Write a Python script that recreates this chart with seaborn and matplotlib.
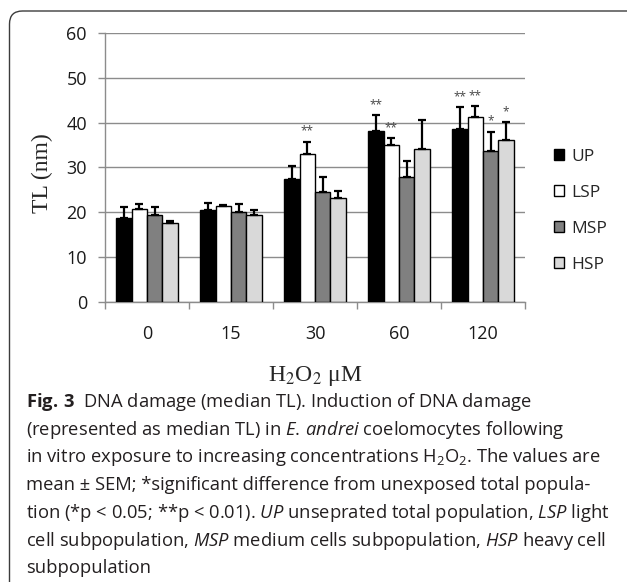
import numpy as np
import pandas as pd
import matplotlib
matplotlib.use("Agg")
import matplotlib.pyplot as plt
import seaborn as sns
from matplotlib.patches import FancyBboxPatch, Patch

# ---------------- data ----------------
concentrations = ["0", "15", "30", "60", "120"]
groups = ["UP", "LSP", "MSP", "HSP"]
up_mean = [18.8, 20.5, 27.5, 38.2, 38.5]
up_sem = [2.3, 1.6, 2.9, 3.5, 5.0]
lsp_mean = [20.8, 21.4, 33.1, 35.1, 41.4]
lsp_sem = [1.0, 0.3, 2.7, 1.4, 2.3]
msp_mean = [19.4, 20.1, 24.5, 27.8, 33.8]
msp_sem = [1.7, 1.7, 3.4, 3.7, 4.2]
hsp_mean = [17.7, 19.4, 23.1, 34.2, 36.2]
hsp_sem = [0.3, 1.0, 1.7, 6.4, 3.9]
up_stars = ["", "", "", "**", "**"]
lsp_stars = ["", "", "**", "**", "**"]
msp_stars = ["", "", "", "", "*"]
hsp_stars = ["", "", "", "", "*"]
colors = ["#000000", "#ffffff", "#808080", "#d9d9d9"]

means = {"UP": up_mean, "LSP": lsp_mean, "MSP": msp_mean, "HSP": hsp_mean}
sems = {"UP": up_sem, "LSP": lsp_sem, "MSP": msp_sem, "HSP": hsp_sem}
stars = {"UP": up_stars, "LSP": lsp_stars, "MSP": msp_stars, "HSP": hsp_stars}

rows = []
for g in groups:
    for c, m in zip(concentrations, means[g]):
        rows.append({"conc": c, "group": g, "TL": m})
df = pd.DataFrame(rows)

# ---------------- style ----------------
sns.set_style("white")
plt.rcParams["font.family"] = ["Open Sans", "DejaVu Sans"]
plt.rcParams["mathtext.fontset"] = "custom"
plt.rcParams["mathtext.rm"] = "Open Sans"
plt.rcParams["mathtext.it"] = "Open Sans:italic"
plt.rcParams["mathtext.bf"] = "Open Sans:bold"

W, H = 627, 582
fig = plt.figure(figsize=(W / 100, H / 100), dpi=100)
ax = fig.add_axes([105 / W, 1 - 301.7 / H, 420 / W, 268.4 / H])

sns.barplot(data=df, x="conc", y="TL", hue="group", order=concentrations,
            hue_order=groups, palette=colors, edgecolor="black", linewidth=1.0,
            width=0.73, errorbar=None, ax=ax, zorder=3, legend=True)

for g, cont in zip(groups, ax.containers):
    xs = [p.get_x() + p.get_width() / 2 for p in cont.patches]
    ys = np.array(means[g])
    es = np.array(sems[g])
    ax.errorbar(xs, ys, yerr=[np.zeros_like(es), es], fmt="none", ecolor="black",
                elinewidth=1.6, capsize=3.2, capthick=1.6, zorder=4)
    for x, y, e, s in zip(xs, ys, es, stars[g]):
        if s:
            ax.text(x, y + e + 0.9, s, ha="center", va="bottom", fontsize=8.5,
                    color="#444444", zorder=5)

ax.set_ylim(0, 60)
ax.set_xlim(-0.5, 4.5)
ax.set_yticks(range(0, 61, 10))
ax.grid(axis="y", color="#8c8c8c", linewidth=1.0, zorder=0)
ax.set_axisbelow(True)
for side in ["top", "right"]:
    ax.spines[side].set_visible(False)
for side in ["left", "bottom"]:
    ax.spines[side].set_color("#8c8c8c")
    ax.spines[side].set_linewidth(1.0)
ax.tick_params(axis="y", which="major", direction="out", length=5, width=1,
               color="#8c8c8c", labelsize=13, pad=8, left=True, labelcolor="#1a1a1a")
ax.set_xticks(np.arange(-0.5, 4.6, 1.0), minor=True)
ax.tick_params(axis="x", which="minor", direction="out", length=5, width=1,
               color="#8c8c8c", bottom=True)
ax.tick_params(axis="x", which="major", length=0, labelsize=13, pad=17,
               labelcolor="#1a1a1a")
ax.set_xlabel("")
ax.set_ylabel("")

# legend
handles = [Patch(facecolor=c, edgecolor="black", linewidth=1.0) for c in colors]
ax.legend(handles, groups, loc="center left", bbox_to_anchor=(554 / W, 1 - 211 / H),
          bbox_transform=fig.transFigure, frameon=False, fontsize=12.5,
          handlelength=0.6, handleheight=0.6, handletextpad=0.4, labelspacing=1.15,
          borderpad=0, borderaxespad=0)

# axis titles
fig.text(42 / W, 1 - 173 / H, "TL (nm)", rotation=90, ha="center", va="center",
         family="Liberation Serif", fontsize=17)
fig.text(315 / W, 1 - 376 / H, r"H$_2$O$_2$ μM", ha="center", va="center",
         family="Liberation Serif", fontsize=17, math_fontfamily="stix")

# caption
cap_lines = [
    r"$\mathbf{Fig.\,3}$  DNA damage (median TL). Induction of DNA damage",
    r"(represented as median TL) in $\mathit{E.\,andrei}$ coelomocytes following",
    r"in vitro exposure to increasing concentrations H$_2$O$_2$. The values are",
    r"mean ± SEM; *significant difference from unexposed total popula-",
    r"tion (*p < 0.05; **p < 0.01). $\mathit{UP}$ unseprated total population, $\mathit{LSP}$ light",
    r"cell subpopulation, $\mathit{MSP}$ medium cells subpopulation, $\mathit{HSP}$ heavy cell",
    r"subpopulation",
]
y0 = 407
for i, line in enumerate(cap_lines):
    fig.text(26 / W, 1 - (y0 + i * 27.7) / H, line, ha="left", va="baseline",
             fontsize=13.2, color="#231f20")

# rounded frame
frame = FancyBboxPatch((0.095, -1.0), 8.0, (H - 11) / 100 + 1.0,
                       boxstyle="round,pad=0,rounding_size=0.13",
                       transform=fig.dpi_scale_trans, facecolor="none",
                       edgecolor="#3c3c3c", linewidth=1.0, clip_on=False)
fig.patches.append(frame)

fig.savefig("out.png", dpi=100)
